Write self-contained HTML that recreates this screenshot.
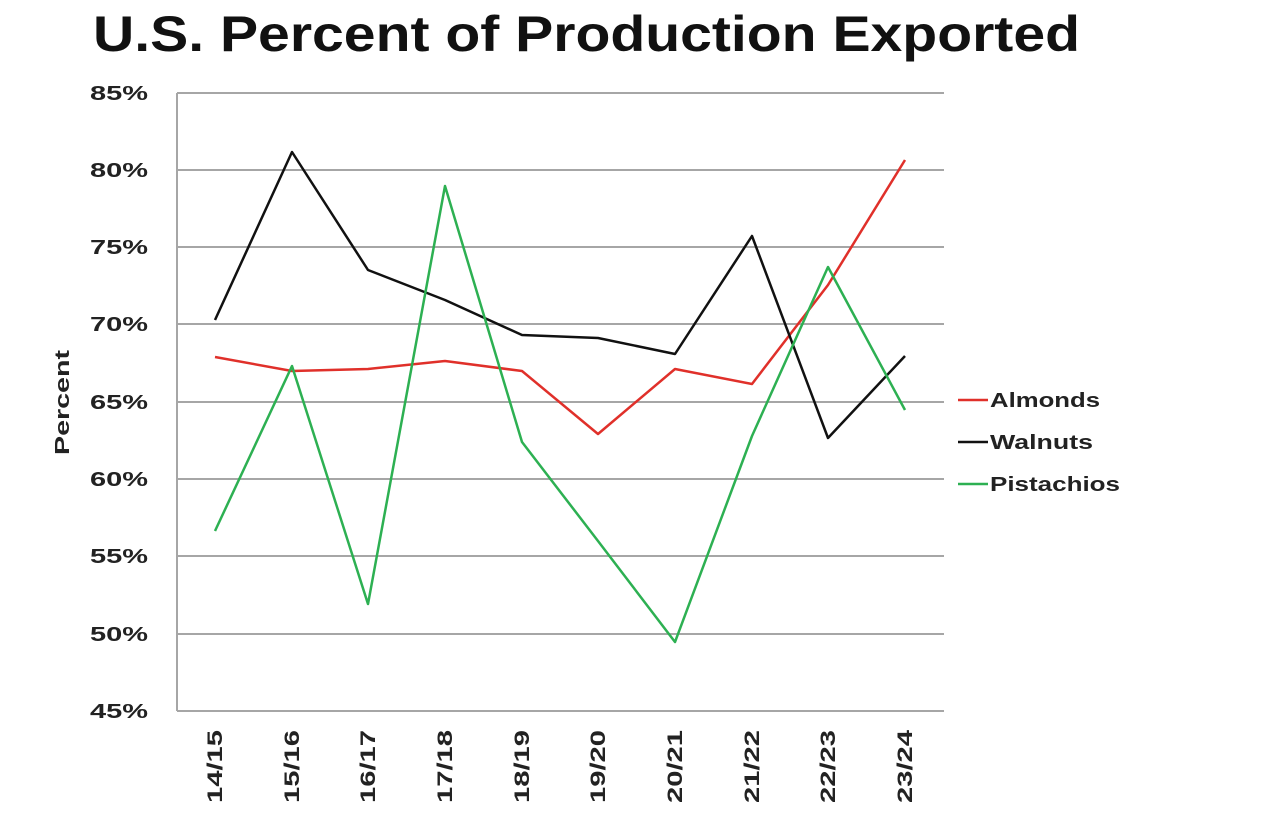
<!DOCTYPE html>
<html><head><style>
body{margin:0;background:#fff;}
svg{display:block;font-family:"Liberation Sans",Arial,sans-serif;}
</style></head><body>
<svg width="1280" height="813" viewBox="0 0 1280 813">
<text x="93" y="51" font-size="50" font-weight="bold" fill="#111" textLength="987" lengthAdjust="spacingAndGlyphs">U.S. Percent of Production Exported</text>
<g stroke="#a6a6a6" stroke-width="2">
<line x1="177" y1="93" x2="944" y2="93"/>
<line x1="177" y1="170" x2="944" y2="170"/>
<line x1="177" y1="247" x2="944" y2="247"/>
<line x1="177" y1="324" x2="944" y2="324"/>
<line x1="177" y1="402" x2="944" y2="402"/>
<line x1="177" y1="479" x2="944" y2="479"/>
<line x1="177" y1="556" x2="944" y2="556"/>
<line x1="177" y1="634" x2="944" y2="634"/>
<line x1="177" y1="711" x2="944" y2="711"/>
<line x1="177" y1="93" x2="177" y2="711"/>
</g>
<g font-size="20" font-weight="bold" fill="#222">
<text x="90" y="100" textLength="58" lengthAdjust="spacingAndGlyphs">85%</text>
<text x="90" y="177" textLength="58" lengthAdjust="spacingAndGlyphs">80%</text>
<text x="90" y="254" textLength="58" lengthAdjust="spacingAndGlyphs">75%</text>
<text x="90" y="331" textLength="58" lengthAdjust="spacingAndGlyphs">70%</text>
<text x="90" y="409" textLength="58" lengthAdjust="spacingAndGlyphs">65%</text>
<text x="90" y="486" textLength="58" lengthAdjust="spacingAndGlyphs">60%</text>
<text x="90" y="563" textLength="58" lengthAdjust="spacingAndGlyphs">55%</text>
<text x="90" y="641" textLength="58" lengthAdjust="spacingAndGlyphs">50%</text>
<text x="90" y="718" textLength="58" lengthAdjust="spacingAndGlyphs">45%</text>
</g>
<text transform="translate(69,455) rotate(-90)" font-size="20" font-weight="bold" fill="#222" textLength="105" lengthAdjust="spacingAndGlyphs">Percent</text>
<g font-size="21" font-weight="bold" fill="#222">
<text transform="translate(222,803) rotate(-90)" textLength="73" lengthAdjust="spacingAndGlyphs">14/15</text>
<text transform="translate(299,803) rotate(-90)" textLength="73" lengthAdjust="spacingAndGlyphs">15/16</text>
<text transform="translate(375,803) rotate(-90)" textLength="73" lengthAdjust="spacingAndGlyphs">16/17</text>
<text transform="translate(452,803) rotate(-90)" textLength="73" lengthAdjust="spacingAndGlyphs">17/18</text>
<text transform="translate(529,803) rotate(-90)" textLength="73" lengthAdjust="spacingAndGlyphs">18/19</text>
<text transform="translate(605,803) rotate(-90)" textLength="73" lengthAdjust="spacingAndGlyphs">19/20</text>
<text transform="translate(682,803) rotate(-90)" textLength="73" lengthAdjust="spacingAndGlyphs">20/21</text>
<text transform="translate(759,803) rotate(-90)" textLength="73" lengthAdjust="spacingAndGlyphs">21/22</text>
<text transform="translate(835,803) rotate(-90)" textLength="73" lengthAdjust="spacingAndGlyphs">22/23</text>
<text transform="translate(912,803) rotate(-90)" textLength="73" lengthAdjust="spacingAndGlyphs">23/24</text>
</g>
<g fill="none" stroke-width="2.5" stroke-linejoin="round">
<polyline stroke="#e0302a" points="215,357 292,371 368,369 445,361 522,371 598,434 675,369 752,384 828,285 905,160"/>
<polyline stroke="#111" points="215,320 292,152 368,270 445,300 522,335 598,338 675,354 752,236 828,438 905,356"/>
<polyline stroke="#2db052" points="215,531 292,366 368,604 445,186 522,442 598,541 675,642 752,436 828,267 905,410"/>
</g>
<g font-size="20" font-weight="bold" fill="#222">
<line x1="958" y1="400" x2="988" y2="400" stroke="#e0302a" stroke-width="2.5"/>
<text x="990" y="407" textLength="110" lengthAdjust="spacingAndGlyphs">Almonds</text>
<line x1="958" y1="442" x2="988" y2="442" stroke="#111" stroke-width="2.5"/>
<text x="990" y="449" textLength="103" lengthAdjust="spacingAndGlyphs">Walnuts</text>
<line x1="958" y1="484" x2="988" y2="484" stroke="#2db052" stroke-width="2.5"/>
<text x="990" y="491" textLength="130" lengthAdjust="spacingAndGlyphs">Pistachios</text>
</g>
</svg>
</body></html>
